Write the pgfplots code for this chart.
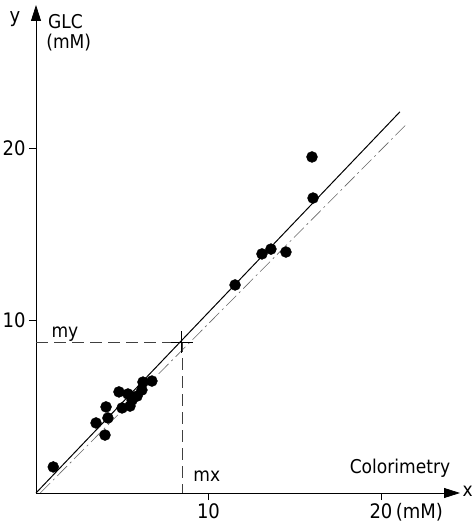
\documentclass[border=0pt]{standalone}
\usepackage{pgfplots}
\pgfplotsset{compat=1.18}
\usepackage{fontspec}
\setmainfont{DejaVu Sans Condensed}
\usetikzlibrary{arrows.meta}

\begin{document}
\begin{tikzpicture}
\useasboundingbox (0,0) rectangle (474pt,531pt);
\begin{axis}[
    at={(36pt,38pt)}, anchor=south west,
    scale only axis, width=424pt, height=488pt,
    xmin=0, xmax=24.58, ymin=0, ymax=28.29,
    axis lines=left,
    axis line style={draw=none},
    xtick={10,20}, ytick={10,20},
    xticklabels={10,20\rlap{\,(mM)}}, yticklabels={10,20},
    tick align=outside, major tick length=7pt,
    tick style={black, line width=0.8pt},
    ticklabel style={font=\fontsize{20}{24}\selectfont},
    /pgf/number format/assume math mode=true,
    clip=false,
]
% axes with large filled arrow heads
\draw[line width=0.8pt, -{Triangle[length=16pt,width=10pt]}] (axis cs:0,0) -- (axis cs:24.58,0);
\draw[line width=0.8pt, -{Triangle[length=16pt,width=10pt]}] (axis cs:0,0) -- (axis cs:0,28.29);
% regression line and line of identity
\addplot[black, line width=1pt] coordinates {(0,0) (21.1,22.1)};
\addplot[black!60, line width=0.6pt, dash pattern=on 14pt off 4pt on 2pt off 4pt] coordinates {(0.25,0) (21.4,21.3)};
% guides to the mean point
\addplot[black!75, line width=0.6pt, dash pattern=on 12pt off 6pt] coordinates {(0,8.75) (8.46,8.75) (8.46,0)};
\addplot[only marks, mark=+, mark size=11pt, line width=1.1pt, black] coordinates {(8.46,8.75)};
% measurements
\addplot[only marks, mark=*, mark size=5.5pt, black] coordinates {
    (1.0,1.51) (4.06,4.99) (3.48,4.06) (4.17,4.35) (4.0,3.36)
    (4.81,5.86) (4.99,4.93) (5.45,5.04) (5.57,5.39) (5.33,5.74)
    (5.86,5.62) (6.14,5.97) (6.2,6.43) (6.72,6.49)
    (11.54,12.06) (13.1,13.86) (13.62,14.14) (14.49,13.97)
    (16.06,17.1) (16.0,19.48)
};
\node[font=\fontsize{19}{22}\selectfont, anchor=base] at (axis cs:1.68,9.0) {my};
\node[font=\fontsize{19}{22}\selectfont, anchor=base] at (axis cs:9.9,0.64) {mx};
\node[font=\fontsize{19}{22}\selectfont] at (axis cs:21.1,1.45) {Colorimetry};
\node[font=\fontsize{19}{22}\selectfont, anchor=west, inner sep=0pt] at (axis cs:24.72,0.1) {x};
\node[font=\fontsize{20}{24}\selectfont] at (axis cs:-1.22,27.5) {y};
\node[font=\fontsize{19}{22}\selectfont, anchor=west] at (axis cs:0.5,27.3) {GLC};
\node[font=\fontsize{19}{22}\selectfont, anchor=west] at (axis cs:0.4,26.1) {(mM)};
\end{axis}
\end{tikzpicture}
\end{document}
